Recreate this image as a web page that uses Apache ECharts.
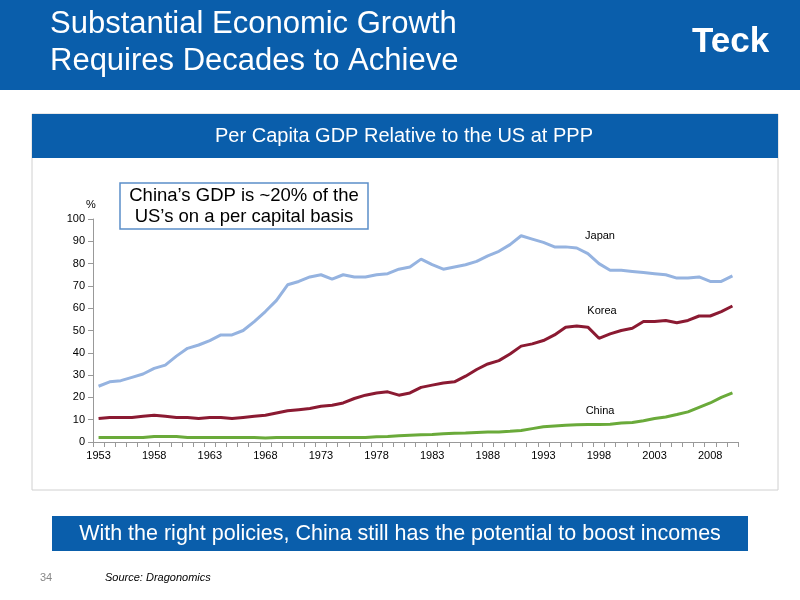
<!DOCTYPE html>
<html>
<head>
<meta charset="UTF-8">
<script src="https://cdn.jsdelivr.net/npm/echarts@6/dist/echarts.min.js"></script>
<style>
  body { margin: 0; background: #fff; }
  #main { width: 800px; height: 600px; }
</style>
</head>
<body>
<div id="main"></div>
<script type="text/javascript">
var years = [];
for (var y = 1953; y <= 2010; y++) years.push(String(y));
var japan = [25,27,27.5,29,30.5,33,34.5,38.5,42,43.5,45.5,48,48,50,54,58.5,63.5,70.5,72,74,75,73,75,74,74,75,75.5,77.5,78.5,82,79.5,77.5,78.5,79.5,81,83.5,85.5,88.5,92.5,91,89.5,87.5,87.5,87,84.5,80,77,77,76.5,76,75.5,75,73.5,73.5,74,72,72,74.5];
var korea = [10.5,11,11,11,11.5,12,11.5,11,11,10.5,11,11,10.5,11,11.5,12,13,14,14.5,15,16,16.5,17.5,19.5,21,22,22.5,21,22,24.5,25.5,26.5,27,29.5,32.5,35,36.5,39.5,43,44,45.5,48,51.5,52,51.5,46.5,48.5,50,51,54,54,54.5,53.5,54.5,56.5,56.5,58.5,61];
var china = [2,2,2,2,2,2.5,2.5,2.5,2,2,2,2,2,2,2,1.8,2,2,2,2,2,2,2,2,2,2.3,2.5,2.8,3,3.2,3.4,3.7,3.9,4,4.3,4.5,4.5,4.8,5.2,6,6.8,7.2,7.5,7.7,7.8,7.9,8,8.5,8.7,9.5,10.5,11.2,12.3,13.5,15.5,17.5,20,22];

var myChart = echarts.init(document.getElementById('main'));
var font = 'Liberation Sans, Arial, sans-serif';
var option = {
  animation: false,
  textStyle: { fontFamily: font },
  grid: { left: 93, right: 62, top: 219, bottom: 158 },
  xAxis: {
    type: 'category', data: years, boundaryGap: true,
    axisLine: { lineStyle: { color: '#999' } },
    axisTick: { show: true, interval: 0, lineStyle: { color: '#999' } },
    axisLabel: { interval: 4, color: '#000', fontSize: 11, fontFamily: font }
  },
  yAxis: {
    type: 'value', min: 0, max: 100, interval: 10,
    splitLine: { show: false },
    axisLine: { show: true, lineStyle: { color: '#999' } },
    axisTick: { show: true, lineStyle: { color: '#999' } },
    axisLabel: { color: '#000', fontSize: 11, fontFamily: font }
  },
  series: [
    { name: 'Japan', type: 'line', data: japan, showSymbol: false, lineStyle: { color: '#95b3e0', width: 3 } },
    { name: 'Korea', type: 'line', data: korea, showSymbol: false, lineStyle: { color: '#8b1a32', width: 3 } },
    { name: 'China', type: 'line', data: china, showSymbol: false, lineStyle: { color: '#6aaa3a', width: 3 } }
  ],
  graphic: [
    { type: 'rect', shape: { x: 0, y: 0, width: 800, height: 90 }, style: { fill: '#0a5eab' } },
    { type: 'text', left: 50, top: 6, style: { text: 'Substantial Economic Growth\nRequires Decades to Achieve', fill: '#fff', font: '31px ' + font, lineHeight: 37 } },
    { type: 'text', left: 692, top: 25, style: { text: 'Teck', fill: '#fff', font: 'bold 35px ' + font } },
    { type: 'rect', shape: { x: 32, y: 114, width: 746, height: 376 }, style: { fill: 'none', stroke: '#d0d0d0', lineWidth: 1 } },
    { type: 'rect', shape: { x: 32, y: 114, width: 746, height: 44 }, style: { fill: '#0a5eab' } },
    { type: 'text', x: 404, y: 136, style: { text: 'Per Capita GDP Relative to the US at PPP', fill: '#fff', font: '20px ' + font, align: 'center', verticalAlign: 'middle' } },
    { type: 'rect', shape: { x: 120, y: 183, width: 248, height: 46 }, style: { fill: '#fff', stroke: '#5b8fc9', lineWidth: 1.5 } },
    { type: 'text', x: 244, y: 206, style: { text: 'China\u2019s GDP is ~20% of the\nUS\u2019s on a per capital basis', fill: '#000', font: '18.5px ' + font, align: 'center', verticalAlign: 'middle', lineHeight: 21 } },
    { type: 'text', x: 91, y: 205, style: { text: '%', fill: '#000', font: '11px ' + font, align: 'center', verticalAlign: 'middle' } },
    { type: 'text', x: 600, y: 236, style: { text: 'Japan', fill: '#000', font: '11px ' + font, align: 'center', verticalAlign: 'middle' } },
    { type: 'text', x: 602, y: 311, style: { text: 'Korea', fill: '#000', font: '11px ' + font, align: 'center', verticalAlign: 'middle' } },
    { type: 'text', x: 600, y: 411, style: { text: 'China', fill: '#000', font: '11px ' + font, align: 'center', verticalAlign: 'middle' } },
    { type: 'rect', shape: { x: 52, y: 516, width: 696, height: 35 }, style: { fill: '#0a5eab' } },
    { type: 'text', x: 400, y: 534, style: { text: 'With the right policies, China still has the potential to boost incomes', fill: '#fff', font: '21.5px ' + font, align: 'center', verticalAlign: 'middle' } },
    { type: 'text', x: 40, y: 578, style: { text: '34', fill: '#888', font: '11px ' + font, verticalAlign: 'middle' } },
    { type: 'text', x: 105, y: 578, style: { text: 'Source: Dragonomics', fill: '#000', font: 'italic 11px ' + font, verticalAlign: 'middle' } }
  ]
};
myChart.setOption(option);
</script>
</body>
</html>
